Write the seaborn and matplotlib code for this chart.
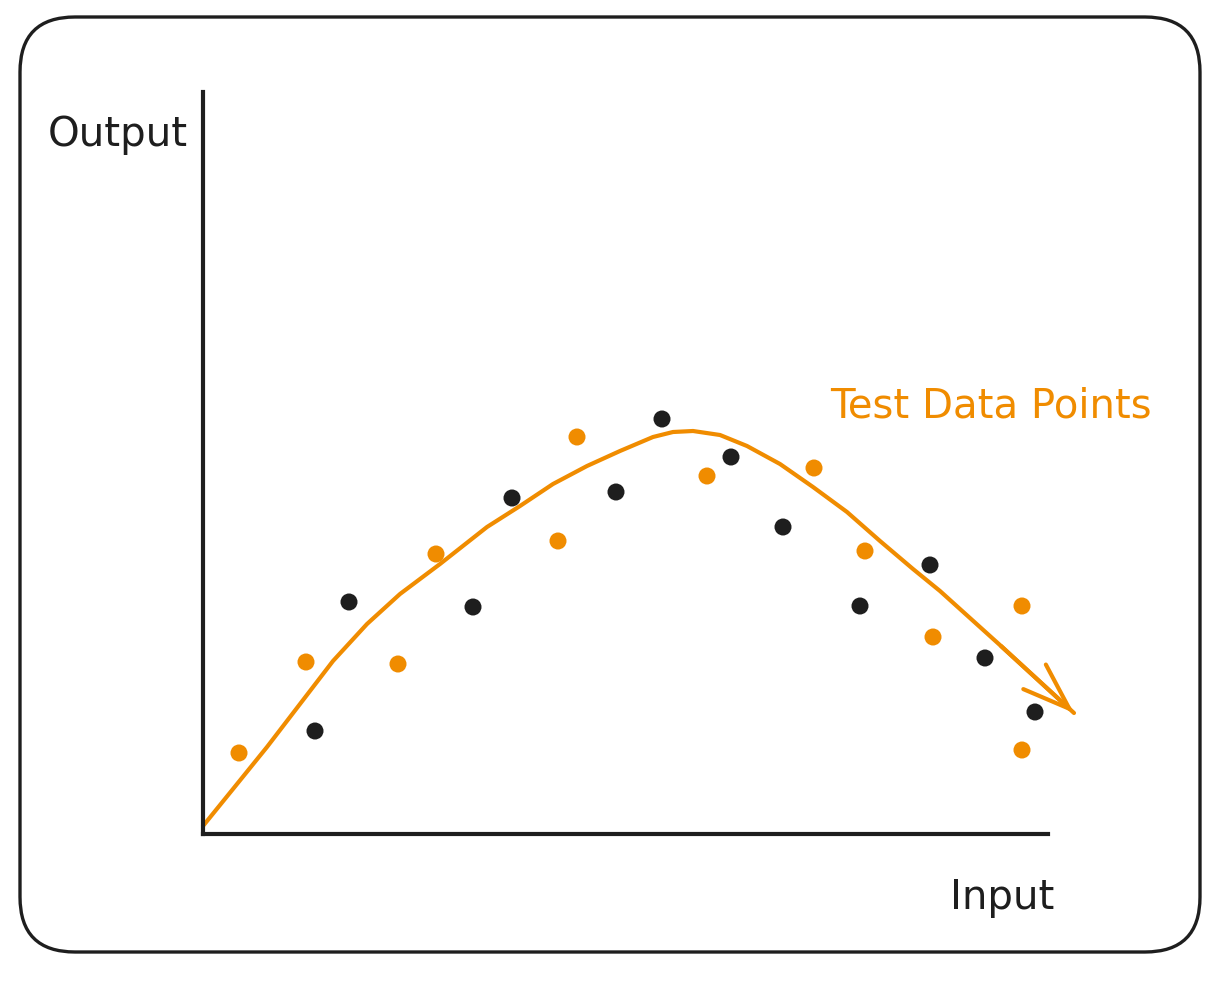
import matplotlib
matplotlib.use("Agg")
import matplotlib.pyplot as plt
from matplotlib.patches import FancyBboxPatch
import seaborn as sns
import pandas as pd

# Datos (unidades: pixeles desde el origen de los ejes)
black_x = [112, 146, 270, 309, 413, 459, 528, 580, 657, 727, 782, 832]
black_y = [103, 232, 227, 336, 342, 415, 377, 307, 228, 269, 176, 122]

orange_x = [36, 103, 195, 233, 355, 374, 504, 611, 662, 730, 819, 819]
orange_y = [81, 172, 170, 280, 293, 397, 358, 366, 283, 197, 228, 84]

curve_x = [0, 30, 64, 97, 130, 164, 197, 237, 284, 317, 350, 384, 417, 450,
           470, 490, 517, 544, 577, 610, 644, 677, 710, 737, 798, 871]
curve_y = [8, 45, 87, 130, 173, 210, 240, 270, 307, 328, 350, 368, 383, 397,
           402, 403, 399, 388, 370, 347, 322, 293, 265, 243, 188, 121]

x_label = "Input"
y_label = "Output"
note = "Test Data Points"

INK = "#1e1e1e"
ORANGE = "#f08c00"

df = pd.DataFrame({
    "x": black_x + orange_x,
    "y": black_y + orange_y,
    "grupo": ["train"] * len(black_x) + ["test"] * len(orange_x),
})

sns.set_theme(style="white")
plt.rcParams["font.family"] = ["DejaVu Sans"]

fig = plt.figure(figsize=(12.19, 9.95), dpi=100)

# Fondo con el marco redondeado
bg = fig.add_axes([0, 0, 1, 1])
bg.set_xlim(0, 1219)
bg.set_ylim(995, 0)
bg.axis("off")
bg.add_patch(FancyBboxPatch((20, 18), 1180, 935,
                            boxstyle="round,pad=0,rounding_size=55",
                            lw=2.4, ec=INK, fc="none"))
bg.text(48, 135, y_label, fontsize=29, color=INK, ha="left", va="center")
bg.text(950, 898, x_label, fontsize=29, color=INK, ha="left", va="center")
bg.text(830, 407, note, fontsize=29, color=ORANGE, ha="left", va="center")

# Ejes principales
ax = fig.add_axes([203 / 1219, 160 / 995, 845 / 1219, 742 / 995])
ax.patch.set_alpha(0)

sns.lineplot(x=curve_x, y=curve_y, sort=False, color=ORANGE, lw=3,
             ax=ax, clip_on=False, zorder=2,
             solid_joinstyle="round", solid_capstyle="round")
ax.annotate("", xy=(curve_x[-1], curve_y[-1]), xytext=(curve_x[-2], curve_y[-2]),
            arrowprops=dict(arrowstyle="->,head_length=3.4,head_width=1.2",
                            color=ORANGE, lw=3, mutation_scale=10,
                            shrinkA=0, shrinkB=0, capstyle="round",
                            joinstyle="round"),
            annotation_clip=False)

sns.scatterplot(data=df, x="x", y="y", hue="grupo",
                palette={"train": INK, "test": ORANGE},
                s=150, linewidth=0, legend=False, ax=ax, clip_on=False, zorder=3)

ax.set_xlim(0, 845)
ax.set_ylim(0, 742)
ax.set_xticks([])
ax.set_yticks([])
ax.set_xlabel("")
ax.set_ylabel("")
sns.despine(ax=ax)
for side in ["left", "bottom"]:
    ax.spines[side].set_linewidth(3)
    ax.spines[side].set_color(INK)

fig.savefig("out.png", dpi=100)
